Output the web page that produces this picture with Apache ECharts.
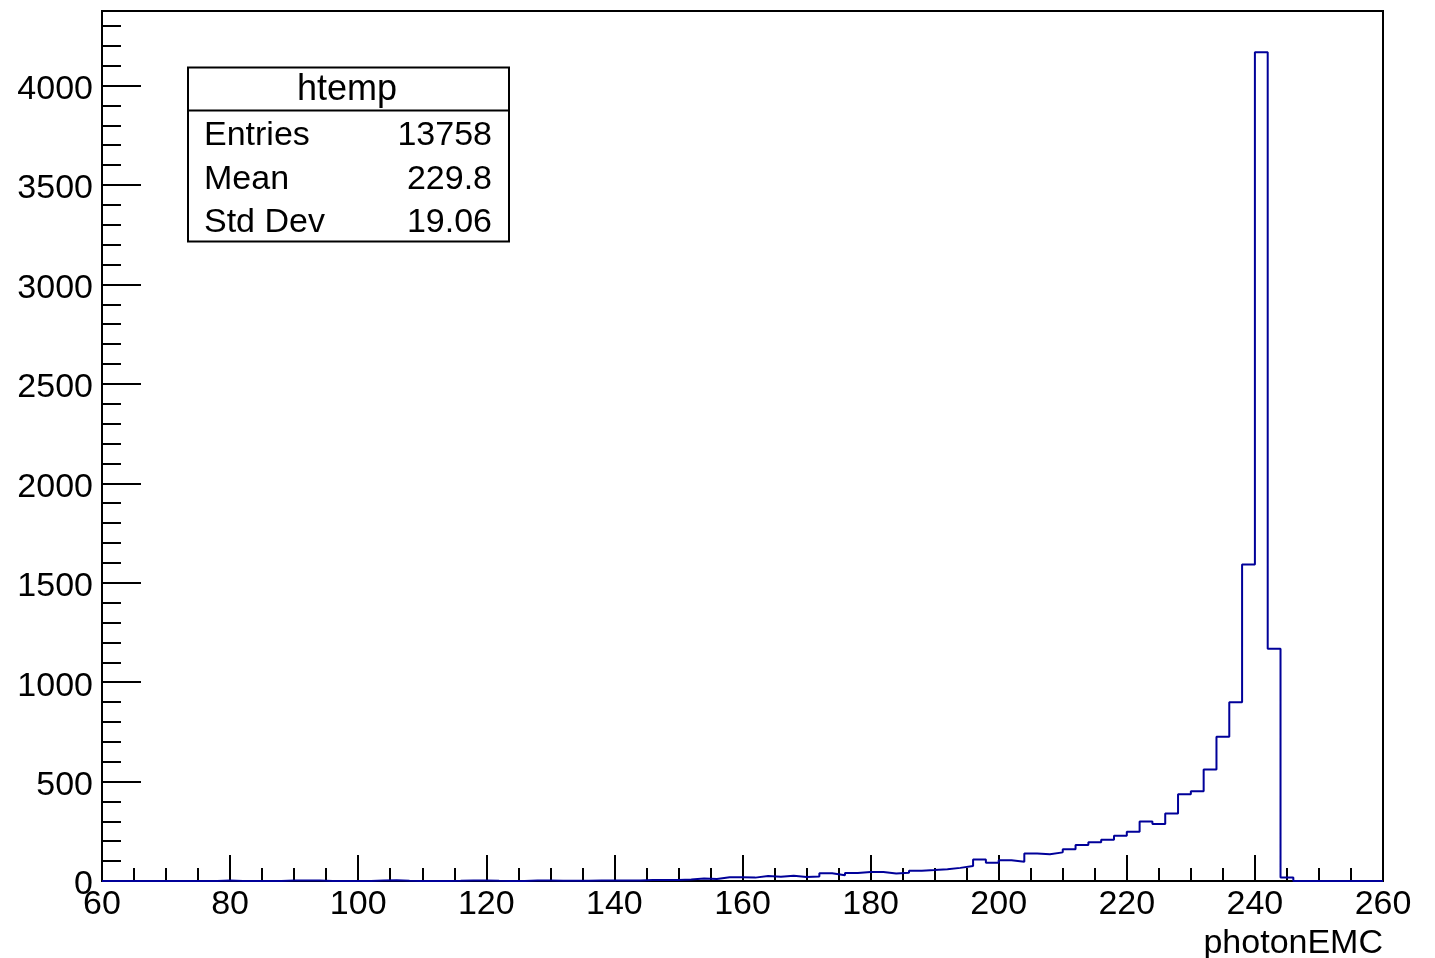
<!DOCTYPE html>
<html>
<head>
<meta charset="utf-8">
<script src="https://cdn.jsdelivr.net/npm/echarts@6/dist/echarts.min.js"></script>
<style>
html,body{margin:0;padding:0;background:#fff;}
#chart{width:1435px;height:958px;}
</style>
</head>
<body>
<div id="chart"></div>
<script>
// Histogram binning (x range of the bins)
const binLow = 60;
const binWidth = 2;
// Bin contents, one value per 2-unit bin from 60 to 260 (100 bins)
const counts = [
  0, 0, 0, 0, 0, 0, 0, 0, 0, 2,        // 60-78
  0, 0, 0, 0, 2, 2, 2, 0, 0, 0,        // 80-98
  0, 2, 4, 1, 0, 0, 0, 1, 3, 3,        // 100-118
  1, 0, 0, 2, 2, 1, 1, 1, 3, 3,        // 120-138
  2, 2, 5, 5, 5, 7, 13, 10, 19, 19,    // 140-158
  17, 25, 21, 27, 20, 23, 39, 29, 40, 45, // 160-178
  45, 38, 41, 52, 55, 59, 66, 76, 108, 92, // 180-198
  104, 97, 138, 134, 144, 160, 181, 195, 208, 228, // 200-218
  248, 299, 287, 339, 436, 451, 561, 725, 899, 1592, // 220-238
  4167, 1168, 17, 0, 0, 0, 0, 0, 0, 0  // 240-258
];
// Axis ticks
const xTickLabels = [60, 80, 100, 120, 140, 160, 180, 200, 220, 240, 260];
const yMajorTicks = [0, 500, 1000, 1500, 2000, 2500, 3000, 3500, 4000];
const yMinorTicks = [100, 200, 300, 400, 600, 700, 800, 900, 1100, 1200, 1300, 1400,
  1600, 1700, 1800, 1900, 2100, 2200, 2300, 2400, 2600, 2700, 2800, 2900,
  3100, 3200, 3300, 3400, 3600, 3700, 3800, 3900, 4100, 4200, 4300];
// Stats box
const statsTitle = 'htemp';
const statsLabels = ['Entries', 'Mean', 'Std Dev'];
const statsValues = ['13758', '229.8', '19.06'];
const xTitle = 'photonEMC';

const xMin = 60, xMax = 260, yMax = 4375;

// Build step outline points (bin low edges, closing at upper edge)
const stepData = counts.map((c, i) => [binLow + i * binWidth, c]);
stepData.push([binLow + counts.length * binWidth, counts[counts.length - 1]]);

const FONT = "'Liberation Sans', Arial, Helvetica, sans-serif";
const chart = echarts.init(document.getElementById('chart'), null, {renderer: 'canvas'});

const statsRowY = [136, 180, 223];
const graphics = [
  {type: 'rect', shape: {x: 188, y: 67.5, width: 321, height: 174},
   style: {fill: '#fff', stroke: '#000', lineWidth: 2}, z: 100},
  {type: 'line', shape: {x1: 188, y1: 110.5, x2: 509, y2: 110.5},
   style: {stroke: '#000', lineWidth: 2}, z: 101},
  {type: 'text', x: 347, y: 90, z: 102,
   style: {text: statsTitle, font: '36px ' + FONT, fill: '#000', align: 'center', verticalAlign: 'middle'}}
];
statsLabels.forEach((lab, i) => {
  graphics.push({type: 'text', x: 204, y: statsRowY[i], z: 102,
    style: {text: lab, font: '34px ' + FONT, fill: '#000', align: 'left', verticalAlign: 'middle'}});
  graphics.push({type: 'text', x: 492, y: statsRowY[i], z: 102,
    style: {text: statsValues[i], font: '34px ' + FONT, fill: '#000', align: 'right', verticalAlign: 'middle'}});
});

const yAxisCommon = {
  type: 'value', min: 0, max: yMax, position: 'left',
  splitLine: {show: false},
  axisLine: {show: true, lineStyle: {color: '#000', width: 2}}
};

const plain = v => String(v);

const option = {
  animation: false,
  backgroundColor: '#fff',
  grid: {left: 102, right: 52, top: 11, bottom: 77, show: true,
         borderColor: '#000', borderWidth: 2, backgroundColor: 'transparent',
         containLabel: false, outerBoundsMode: 'none'},
  xAxis: {
    type: 'value', min: xMin, max: xMax, interval: 20,
    name: xTitle, nameLocation: 'end', nameGap: 0,
    nameTextStyle: {fontFamily: FONT, fontSize: 34, color: '#000', align: 'right',
                    verticalAlign: 'top', padding: [46, 0, 0, 0]},
    axisLine: {show: true, onZero: false, lineStyle: {color: '#000', width: 2}},
    axisTick: {show: true, inside: true, length: 26, lineStyle: {color: '#000', width: 2}},
    minorTick: {show: true, splitNumber: 4, length: 13, lineStyle: {color: '#000', width: 2}},
    splitLine: {show: false}, minorSplitLine: {show: false},
    axisLabel: {show: true, color: '#000', fontFamily: FONT, fontSize: 34, margin: 7,
                formatter: plain, customValues: xTickLabels, showMinLabel: true, showMaxLabel: true}
  },
  yAxis: [
    Object.assign({}, yAxisCommon, {
      axisTick: {show: true, inside: true, length: 39, customValues: yMajorTicks,
                 lineStyle: {color: '#000', width: 2}},
      axisLabel: {show: true, margin: 9,
                  formatter: v => '{a|' + v + '}',
                  rich: {a: {color: '#000', fontFamily: FONT, fontSize: 34, padding: [8, 0, 0, 0]}},
                  customValues: yMajorTicks, showMinLabel: true}
    }),
    Object.assign({}, yAxisCommon, {
      axisTick: {show: true, inside: true, length: 19, customValues: yMinorTicks,
                 lineStyle: {color: '#000', width: 2}},
      axisLabel: {show: false}
    })
  ],
  series: [{
    type: 'line', step: 'end', data: stepData, xAxisIndex: 0, yAxisIndex: 0,
    showSymbol: false, symbol: 'none', clip: true,
    lineStyle: {color: '#000099', width: 2}, z: 5
  }],
  graphic: graphics
};
chart.setOption(option);
</script>
</body>
</html>
